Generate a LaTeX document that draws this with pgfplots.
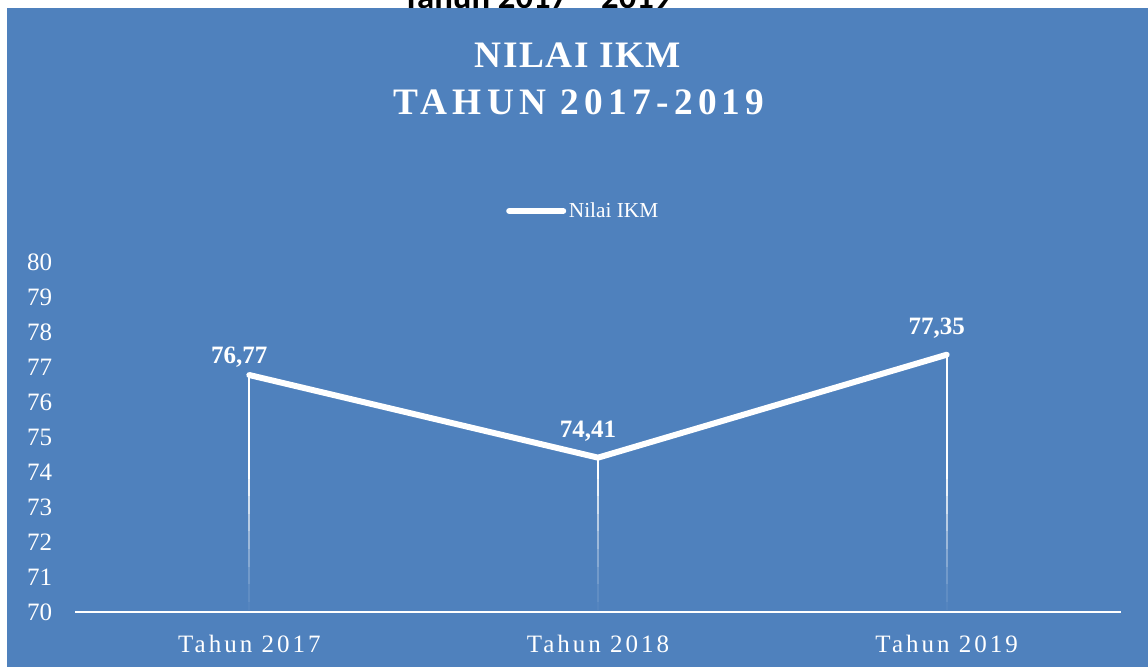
\documentclass[border=0pt]{standalone}
\usepackage{fontspec}
\setmainfont{Liberation Serif}
\newfontfamily\carlito{Carlito}
\usepackage{pgfplots}
\pgfplotsset{compat=1.18}
\definecolor{bg}{HTML}{4F81BD}
\pgfplotstableread{
x y label dy
0 76.77 76,77 9
1 74.41 74,41 15
2 77.35 77,35 15
}\ikm
\newcommand\seg[4]{\addplot[white, line width=1.5pt, opacity=#4, forget plot] coordinates {(#1,#2) (#1,#3)};}
\begin{document}
\begin{tikzpicture}
\useasboundingbox (0,0) rectangle (861pt,500.25pt);
\fill[white] (0,0) rectangle (861pt,500.25pt);
\node[anchor=base, text=black, font=\carlito\bfseries\fontsize{26}{30}\selectfont, inner sep=0pt] at (402.75pt,493.5pt) {Tahun 2017 – 2019};
\fill[bg] (5.25pt,0) rectangle (861pt,494.25pt);
\node[anchor=base, text=white, font=\bfseries\fontsize{28}{32}\selectfont\addfontfeatures{LetterSpace=4}, inner sep=0pt] at (433.5pt,449.25pt) {NILAI IKM};
\node[anchor=base, text=white, font=\bfseries\fontsize{28}{32}\selectfont\addfontfeatures{LetterSpace=14}, inner sep=0pt] at (434.25pt,414pt) {TAHUN 2017-2019};
\begin{axis}[
  at={(56.25pt,41.25pt)}, anchor=south west,
  scale only axis, width=784.5pt, height=262.5pt,
  xmin=-0.5, xmax=2.5, ymin=70, ymax=80,
  ytick={70,71,...,80}, xtick={0,1,2},
  xticklabels={Tahun 2017,Tahun 2018,Tahun 2019},
  axis x line=bottom, axis y line=left,
  x axis line style={white, line width=1.5pt, -},
  y axis line style={draw=none, -},
  major tick length=0pt,
  clip=false,
  /pgf/number format/assume math mode=true,
  yticklabel style={text=white, font=\fontsize{18.75}{22}\selectfont, anchor=east, inner sep=0pt, xshift=-17pt},
  xticklabel style={text=white, font=\fontsize{18.75}{22}\selectfont\addfontfeatures{LetterSpace=12}, anchor=base, inner sep=0pt, yshift=-30pt},
  legend style={at={(axis description cs:0.412,1.1457)}, anchor=west, draw=none, fill=none, text=white, font=\fontsize{16}{19}\selectfont, inner sep=0pt},
  legend image code/.code={\draw[white, line width=4.5pt] (0pt,0pt) -- (40.5pt,0pt);},
]
\addplot[white, line width=1.5pt, forget plot] coordinates {(0,76.77) (0,73.8)};
\addplot[white, line width=1.5pt, forget plot] coordinates {(1,74.41) (1,73.8)};
\addplot[white, line width=1.5pt, forget plot] coordinates {(2,77.35) (2,73.8)};
\pgfplotsinvokeforeach{0,1,2}{
  \seg{#1}{73.8}{73.3}{0.9}
  \seg{#1}{73.3}{72.8}{0.75}
  \seg{#1}{72.8}{72.3}{0.6}
  \seg{#1}{72.3}{71.8}{0.45}
  \seg{#1}{71.8}{71.3}{0.32}
  \seg{#1}{71.3}{70.8}{0.2}
  \seg{#1}{70.8}{70.3}{0.1}
  \seg{#1}{70.3}{70.05}{0.04}
}
\addplot[white, line width=4.5pt, line cap=round,
  nodes near coords, point meta=explicit symbolic,
  visualization depends on={\thisrow{dy} \as \dy},
  every node near coord/.append style={text=white, font=\bfseries\fontsize{18.75}{22}\selectfont, anchor=base, inner sep=0pt, xshift=-7.5pt, yshift=\dy pt}]
  table[x=x, y=y, meta=label] {\ikm};
\addlegendentry{Nilai IKM}
\end{axis}
\end{tikzpicture}
\end{document}
